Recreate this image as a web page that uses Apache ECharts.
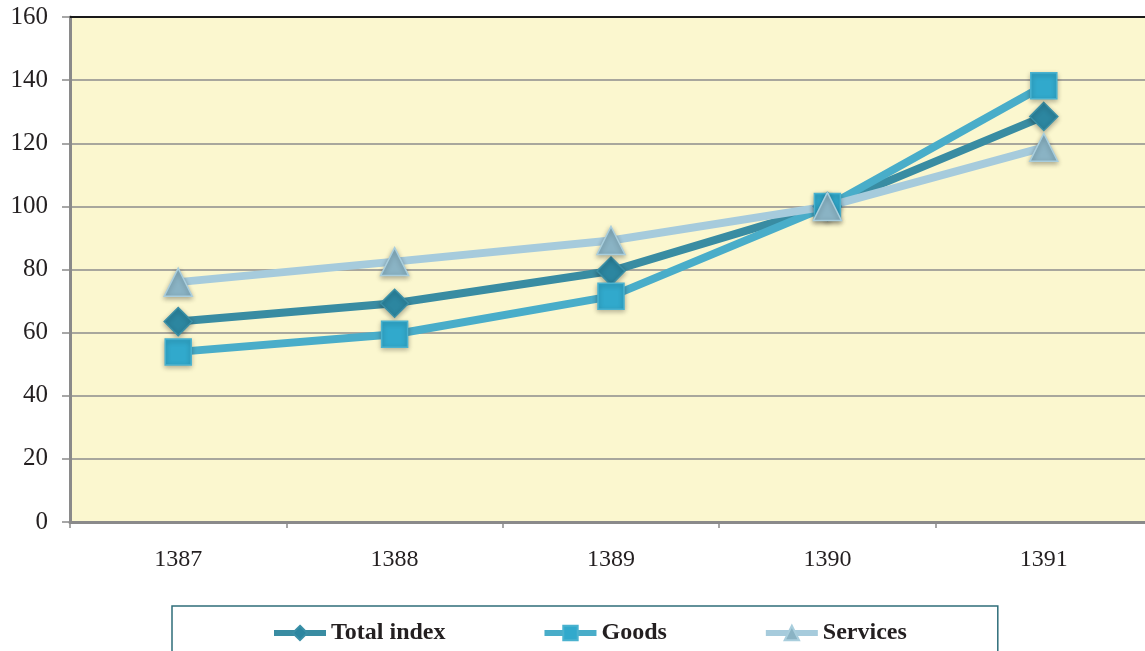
<!DOCTYPE html>
<html>
<head>
<meta charset="utf-8">
<script src="https://cdn.jsdelivr.net/npm/echarts@6/dist/echarts.min.js"></script>
<style>
html,body{margin:0;padding:0;background:#fff;}
#chart{width:1145px;height:651px;}
</style>
</head>
<body>
<div id="chart"></div>
<script>
const categories = ['1387', '1388', '1389', '1390', '1391'];
const seriesNames = ['Total index', 'Goods', 'Services'];
const totalIndex = [63.5, 69.3, 79.5, 100, 128.5];
const goods = [53.9, 59.5, 71.5, 100, 138.2];
const services = [76.0, 82.5, 89.2, 100, 118.7];
const yTicks = [0, 20, 40, 60, 80, 100, 120, 140, 160];

const serif = '"Liberation Serif", "DejaVu Serif", serif';
const chart = echarts.init(document.getElementById('chart'), null, {renderer: 'canvas'});

function mkSeries(name, data, lineColor, symbol, symColor, symBorder, size) {
  return {
    name: name,
    type: 'line',
    data: data,
    symbol: symbol,
    symbolSize: size,
    showAllSymbol: true,
    lineStyle: {color: lineColor, width: 8},
    itemStyle: {
      color: symColor,
      borderColor: symBorder,
      borderWidth: 1.5,
      shadowBlur: 5,
      shadowColor: 'rgba(0,0,0,0.3)',
      shadowOffsetY: 2
    },
    emphasis: {disabled: true},
    z: 3
  };
}

chart.setOption({
  animation: false,
  backgroundColor: '#ffffff',
  grid: {
    left: 70, top: 17, width: 1082, bottom: 129,
    outerBoundsMode: 'none',
    containLabel: false,
    show: true,
    backgroundColor: '#fbf7cf',
    borderWidth: 0
  },
  legend: {
    data: seriesNames,
    left: 172,
    top: 606,
    padding: [15, 91, 22, 99],
    itemGap: 96,
    itemWidth: 52,
    itemHeight: 18,
    borderColor: '#2f6e7a',
    borderWidth: 1.5,
    lineStyle: {width: 6},
    textStyle: {fontFamily: serif, fontWeight: 'bold', fontSize: 24, color: '#231f20'}
  },
  xAxis: [{
    type: 'category',
    data: categories,
    boundaryGap: true,
    axisLine: {lineStyle: {color: '#8a8a8a', width: 3}},
    axisTick: {show: true, length: 6, lineStyle: {color: '#8a8a8a', width: 1.5}},
    axisLabel: {fontFamily: serif, fontSize: 24, color: '#231f20', margin: 26},
    splitLine: {show: false}
  }, {
    type: 'category',
    data: categories,
    position: 'top',
    axisLine: {lineStyle: {color: '#1a1a1a', width: 2}},
    axisTick: {show: false},
    axisLabel: {show: false},
    splitLine: {show: false}
  }],
  yAxis: {
    type: 'value',
    min: yTicks[0],
    max: yTicks[yTicks.length - 1],
    interval: 20,
    axisLine: {show: true, lineStyle: {color: '#8a8a8a', width: 3}},
    axisTick: {show: true, length: 8, lineStyle: {color: '#8a8a8a', width: 1.5}},
    axisLabel: {fontFamily: serif, fontSize: 25, color: '#231f20', margin: 22},
    splitLine: {show: true, lineStyle: {color: '#8c8c8c', width: 1.5}}
  },
  series: [
    mkSeries(seriesNames[0], totalIndex, '#398ca2', 'diamond', '#2c86a0', '#3a8fa6', 28),
    mkSeries(seriesNames[1], goods, '#49adc9', 'rect', '#31a9cc', '#4ab2cf', 26),
    mkSeries(seriesNames[2], services, '#a6cbdc', 'triangle', '#8ab3c4', '#a9cedd', 28)
  ]
});
</script>
</body>
</html>
